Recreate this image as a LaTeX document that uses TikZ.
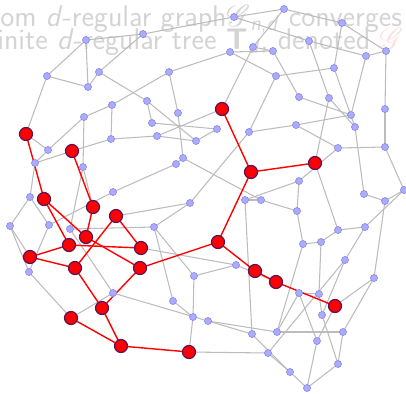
\documentclass[tikz,border=0pt]{standalone}
\usepackage{fontspec}
\usepackage{mathrsfs}
\definecolor{vfill}{RGB}{172,172,255}
\definecolor{vdraw}{RGB}{140,140,235}
\definecolor{edgegray}{RGB}{188,188,188}
\definecolor{rdraw}{RGB}{90,20,90}
\definecolor{txtgray}{RGB}{212,212,212}
\tikzset{
  v/.style={circle,fill=vfill,draw=vdraw,line width=0.4pt,inner sep=0pt,minimum size=0.14cm},
  rv/.style={circle,fill=red,draw=rdraw,line width=0.7pt,inner sep=0pt,minimum size=0.26cm},
  ge/.style={draw=edgegray,line width=0.6pt},
  re/.style={draw=red,line width=0.8pt},
  bgtxt/.style={text=txtgray,font=\sffamily\fontsize{17}{20}\selectfont,inner sep=0pt,anchor=base west}
}
\begin{document}
\begin{tikzpicture}[x=0.02cm,y=-0.02cm]
\clip (0,0) rectangle (406,393);
\useasboundingbox (0,0) rectangle (406,393);
\node[bgtxt] (t1) at (0,26) {om \textit{d}-regular graph$\mathscr{G}$\textsubscript{\textit{n},\textit{d}} converges};
\node[bgtxt] (t2) at (-3,49) {inite \textit{d}-regular tree \textbf{T}\textsubscript{\textit{d}}, denoted \textcolor{red!12}{$\mathscr{G}$}};
% vertices
\foreach \n/\x/\y in {a1/234/17,a2/284/9,a3/342/23,a4/86/40,a5/143/34,a6/309/41,a7/253/47,a8/230/52,a9/273/51,a10/366/56,a11/386/51,
b1/47/76,b2/99/72,b3/88/87,b4/169/72,b5/112/105,b6/147/101,b7/178/113,b8/84/117,b9/152/123,b10/157/136,b11/196/141,b12/111/139,b13/48/150,b14/183/158,b15/176/164,b16/35/163,b17/83/167,b18/113/192,b19/30/197,b20/190/203,b21/49/225,b22/70/229,b23/10/226,b24/154/227,
c1/276/76,c2/334/68,c3/299/97,c4/329/98,c5/385/109,c6/351/115,c7/355/127,c8/217/129,c9/249/132,c10/296/125,c11/338/148,c12/385/147,c13/299/181,c14/245/200,c15/261/200,c16/297/211,c17/364/194,c18/385/201,c19/404/190,c20/338/230,c21/365/227,c22/321/242,c23/303/244,c24/236/265,c25/345/260,c26/374/278,c27/299/293,c28/319/294,c29/322/315,c30/208/321,c31/252/334,c32/277/332,c33/343/332,c34/317/341,c35/268/353,c36/290/372,c37/338/364,c38/307/388,
d1/29/272,d2/113/293,d3/173/301,d4/194/276,d5/193/317}
  {\coordinate (\n) at (\x,\y);}
\foreach \n/\x/\y in {r1/26/134,r2/72/151,r3/44/199,r4/93/207,r5/116/216,r6/86/237,r7/69/245,r8/141/248,r9/30/257,r10/75/268,r11/140/268,r12/222/109,r13/315/163,r14/251/172,r15/218/242,r16/255/271,r17/102/308,r18/71/318,r19/276/282,r20/335/306,r21/121/346,r22/189/352}
  {\coordinate (\n) at (\x,\y);}
% gray edges
\foreach \p/\q in {a4/a5,a4/b1,a4/b3,a5/a1,a5/b2,a1/a2,a1/a6,a2/a3,a2/a7,a3/a11,a3/c2,a6/a10,a6/c4,a7/r12,a7/a9,a8/a9,a8/b4,a8/c1,a9/c3,a10/a11,a10/c6,a11/c5,
b1/r1,b1/b3,b2/b3,b2/b6,b4/b7,b4/b5,b5/b12,b5/b8,b6/b9,b6/b11,b8/b13,b8/b17,b9/c8,b10/b11,b10/r12,b10/b12,b11/c8,b12/r2,b13/r1,b13/b16,b16/r2,b16/b19,b17/r4,b17/b22,b7/b14,b14/b15,b15/b18,b14/c15,
b18/b21,b19/b21,b19/b23,b23/r9,b23/d1,b21/d1,d1/r18,r18/d2,d2/b22,d2/c30,b22/b24,b24/b20,b24/d4,b20/r5,b20/c9,d4/d5,d4/c24,d3/d5,d3/b24,d5/r22,r22/c35,r8/c24,c24/r19,
c1/c2,c1/c9,c2/c7,c3/c6,c4/r13,c4/c7,c5/c12,c6/c10,c9/c10,c10/c11,c11/c12,c11/c13,c12/c19,c7/c17,
c13/c16,c13/c14,c14/c15,c14/c31,c15/c16,c16/c23,c23/c22,c23/c32,c22/c20,c22/c28,c20/r13,c20/c21,c21/c19,c21/c25,c17/c18,c18/c19,c18/c26,
c25/c35,c25/c29,c26/r20,c26/c33,c29/c28,c29/c37,c28/c27,c27/c34,c27/c32,c34/r20,c34/c38,c32/c30,c32/c33,c30/c31,c31/c36,c33/c37,c35/c36,c36/c38,c37/c38}
  {\draw[ge] (\p) -- (\q);}
% red edges
\foreach \p/\q in {r1/r3,r2/r4,r3/r6,r3/r7,r4/r6,r5/r8,r5/r10,r6/r11,r7/r8,r7/r9,r9/r10,r10/r17,r11/r17,r11/r15,r17/r21,r18/r21,r21/r22,r12/r14,r13/r14,r14/r15,r15/r16,r16/r19,r19/r20}
  {\draw[re] (\p) -- (\q);}
\foreach \n in {a1,a2,a3,a4,a5,a6,a7,a8,a9,a10,a11,b1,b2,b3,b4,b5,b6,b7,b8,b9,b10,b11,b12,b13,b14,b15,b16,b17,b18,b19,b20,b21,b22,b23,b24,c1,c2,c3,c4,c5,c6,c7,c8,c9,c10,c11,c12,c13,c14,c15,c16,c17,c18,c19,c20,c21,c22,c23,c24,c25,c26,c27,c28,c29,c30,c31,c32,c33,c34,c35,c36,c37,c38,d1,d2,d3,d4,d5}
  {\node[v] (n\n) at (\n) {};}
\foreach \n in {r1,r2,r3,r4,r5,r6,r7,r8,r9,r10,r11,r12,r13,r14,r15,r16,r17,r18,r19,r20,r21,r22}
  {\node[rv] (n\n) at (\n) {};}
\end{tikzpicture}
\end{document}
